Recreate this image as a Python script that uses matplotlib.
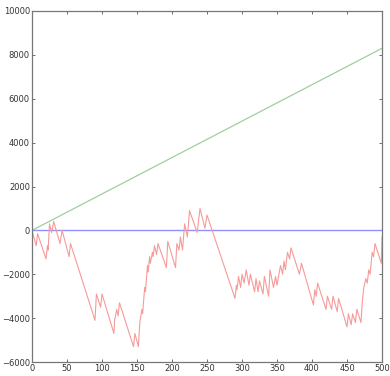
import matplotlib
matplotlib.use('Agg')
import matplotlib.pyplot as plt

# data
red_x = [0, 6, 8, 20, 22, 23, 25, 28, 31, 40, 43, 53, 55, 90, 92, 98, 100,
         117, 118, 121, 123, 125, 145, 147, 152, 154, 157, 158, 161, 162, 165,
         166, 168, 169, 172, 173, 175, 178, 180, 192, 194, 205, 207, 210, 212,
         215, 218, 222, 225, 236, 240, 247, 250, 290, 292, 293, 295, 298, 300,
         303, 306, 310, 312, 318, 320, 323, 325, 330, 332, 338, 340, 345, 348,
         350, 355, 358, 360, 362, 365, 368, 370, 382, 385, 402, 404, 406, 408,
         420, 422, 428, 430, 436, 438, 450, 452, 456, 458, 462, 464, 470, 472,
         474, 477, 479, 481, 483, 486, 488, 490, 499, 500]
red_y = [0, -700, -150, -1300, -700, -900, 300, -100, 400, -600, 0, -1200,
         -600, -4100, -2900, -3500, -2900, -4700, -4100, -3600, -3900, -3300,
         -5300, -4700, -5300, -4200, -3600, -3800, -2600, -2800, -1600, -1900,
         -1200, -1500, -1000, -1200, -700, -1100, -600, -1700, -500, -1700,
         -600, -900, -300, -900, 300, -300, 900, -100, 1000, 100, 700, -3100,
         -2500, -2700, -2100, -2600, -2000, -2400, -1800, -2500, -2000, -2800,
         -2200, -2800, -2300, -2900, -2100, -3000, -1800, -2600, -2100, -2500,
         -1600, -2000, -1400, -1800, -1000, -1300, -800, -2000, -1500, -3400,
         -2700, -3000, -2400, -3600, -3000, -3600, -3000, -3700, -3100, -4400,
         -3800, -4300, -3800, -4200, -3600, -4200, -3200, -2600, -2200, -2400,
         -1800, -2000, -1000, -1200, -600, -1500, -300]
green_x = [0, 500]
green_y = [0, 8300]
blue_x = [0, 500]
blue_y = [0, 0]

xticks = [0, 50, 100, 150, 200, 250, 300, 350, 400, 450, 500]
yticks = [-6000, -4000, -2000, 0, 2000, 4000, 6000, 8000, 10000]

fig = plt.figure(figsize=(3.9, 3.76), dpi=100)
ax = fig.add_axes([32/390, 14/376, 350/390, 351/376])

ax.plot(green_x, green_y, color='#9fcf9f', lw=0.9)
ax.plot(blue_x, blue_y, color='#8f8fff', lw=1.0)
ax.plot(red_x, red_y, color='#f79a9a', lw=0.8)

ax.set_xlim(0, 500)
ax.set_ylim(-6000, 10000)
ax.set_xticks(xticks)
ax.set_yticks(yticks)
ax.tick_params(direction='in', length=2.5, width=0.6, labelsize=6,
               colors='#555555', labelcolor='#333333', pad=1.5,
               top=True, right=True)
for sp in ax.spines.values():
    sp.set_color('#777777')
    sp.set_linewidth(0.9)

plt.savefig('out.png', dpi=100)
